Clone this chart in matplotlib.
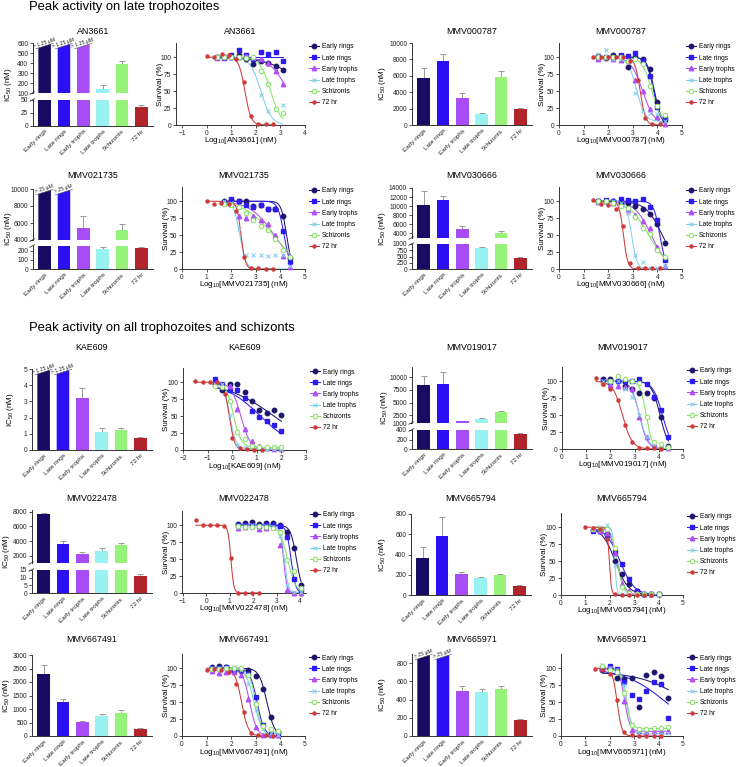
import numpy as np
import matplotlib
matplotlib.use('Agg')
import matplotlib.pyplot as plt
from matplotlib.lines import Line2D
from matplotlib.patches import Polygon

plt.rcParams['font.family'] = ['Liberation Sans', 'DejaVu Sans']
plt.rcParams['mathtext.fontset'] = 'custom'
plt.rcParams['mathtext.rm'] = 'Liberation Sans'

# ---------------- shared categories ----------------
STAGES = ['Early rings', 'Late rings', 'Early trophs', 'Late trophs', 'Schizonts', '72 hr']
BAR_COLORS = ['#170b63', '#2b10f3', '#a84cf6', '#99f2f2', '#97f27a', '#b1252a']
LINE_COLORS = ['#1f1670', '#2d1cf0', '#b04ff5', '#86cdee', '#86e365', '#cf3a3a']

# ---------------- IC50 bar data (nM; None = above tested range) ----------------
AN3661_IC50 = [None, None, None, 137, 390, 36]
AN3661_ERR = [0, 0, 0, 41, 34, 4]
MMV000787_IC50 = [5750, 7850, 3300, 1350, 5900, 1950]
MMV000787_ERR = [1150, 750, 650, 60, 650, 80]
MMV021735_IC50 = [None, None, 5450, 222, 5200, 226]
MMV021735_ERR = [0, 0, 1380, 18, 700, 14]
MMV030666_IC50 = [10240, 11370, 4980, 840, 4075, 453]
MMV030666_ERR = [3150, 830, 600, 40, 380, 27]
KAE609_IC50 = [None, None, 3.23, 1.13, 1.23, 0.74]
KAE609_ERR = [0, 0, 0.57, 0.21, 0.11, 0.06]
MMV019017_IC50 = [8430, 8630, 1300, 1750, 3090, 307]
MMV019017_ERR = [1830, 2350, 130, 250, 320, 28]
MMV022478_IC50 = [7650, 3650, 2270, 2630, 3470, 11.2]
MMV022478_ERR = [220, 300, 230, 440, 230, 0.9]
MMV665794_IC50 = [367, 585, 211, 169, 201, 91]
MMV665794_ERR = [103, 190, 16, 6, 7, 3]
MMV667491_IC50 = [2284, 1272, 531, 740, 840, 247]
MMV667491_ERR = [346, 98, 24, 62, 110, 37]
MMV665971_IC50 = [None, None, 495, 488, 517, 180]
MMV665971_ERR = [0, 0, 55, 26, 33, 11]

# ---------------- dose-response data: log10 conc (nM), survival (%) ----------------
# fit parameters per stage: (logIC50, hill slope, bottom, top)
AN3661_X = [0.4, 0.7, 1.0, 1.3, 1.6, 1.9, 2.2, 2.5, 2.8, 3.1]
AN3661_X72 = [0.0, 0.3, 0.6, 0.9, 1.2, 1.5, 1.8, 2.1, 2.4, 2.7]
AN3661_SURV = [
    [100, 100, 100, 103, 98, 90, 95, 91, 87, 81],
    [101, 99, 104, 110, 103, 98, 108, 105, 107, 94],
    [99, 100, 101, 100, 102, 101, 97, 92, 79, 60],
    [100, 102, 101, 100, 101, 99, 45, 21, 24, 29],
    [100, 100, 100, 101, 99, 100, 80, 61, 24, 17],
    [102, 100, 105, 103, 98, 64, 14, 2, 2, 2]]
AN3661_FIT = [(4.2, 0.6, 0, 100), (9.0, 1.0, 0, 100), (3.3, 1.2, 0, 100),
              (2.2, 2.0, 0, 100), (2.6, 2.0, 0, 100), (1.55, 3.5, 0, 100)]

MMV000787_X = [1.6, 1.9, 2.2, 2.5, 2.8, 3.1, 3.4, 3.7, 4.0, 4.3]
MMV000787_X72 = [1.4, 1.7, 2.0, 2.3, 2.6, 2.9, 3.2, 3.5, 3.8, 4.1]
MMV000787_SURV = [
    [102, 99, 104, 102, 85, 101, 97, 82, 34, 8],
    [100, 100, 101, 103, 102, 106, 94, 72, 26, 10],
    [98, 100, 97, 96, 96, 67, 50, 24, 12, 2],
    [105, 111, 97, 97, 95, 47, 20, 18, 16, 6],
    [100, 100, 100, 100, 95, 97, 90, 58, 28, 15],
    [100, 100, 100, 100, 100, 95, 67, 11, 1, 1]]
MMV000787_FIT = [(3.88, 3.0, 0, 100), (3.85, 3.0, 0, 100), (3.4, 1.8, 0, 100),
                 (3.15, 2.5, 5, 100), (3.78, 2.2, 0, 100), (3.3, 4.0, 0, 100)]

MMV021735_X = [1.7, 2.0, 2.3, 2.6, 2.9, 3.2, 3.5, 3.8, 4.1, 4.4]
MMV021735_X72 = [1.0, 1.3, 1.6, 1.9, 2.2, 2.5, 2.8, 3.1, 3.4, 3.7]
MMV021735_SURV = [
    [100, 102, 101, 101, 93, 95, 88, 88, 78, 16],
    [97, 103, 100, 94, 92, 94, 88, 88, 56, 10],
    [99, 96, 78, 75, 78, 72, 67, 50, 19, 3],
    [101, 97, 59, 21, 21, 20, 19, 20, 20, 5],
    [96, 95, 92, 83, 73, 64, 58, 44, 28, 17],
    [101, 96, 98, 96, 85, 18, 2, 1, 0, 0]]
MMV021735_FIT = [(4.25, 4.0, 0, 100), (4.15, 3.5, 0, 100), (3.75, 0.9, 0, 100),
                 (2.35, 3.5, 0, 100), (3.7, 0.75, 0, 100), (2.4, 5.0, 0, 100)]

MMV030666_X = [1.6, 1.9, 2.2, 2.5, 2.8, 3.1, 3.4, 3.7, 4.0, 4.3]
MMV030666_X72 = [1.4, 1.7, 2.0, 2.3, 2.6, 2.9, 3.2, 3.5, 3.8, 4.1]
MMV030666_SURV = [
    [100, 100, 100, 97, 98, 93, 89, 81, 67, 39],
    [101, 102, 101, 104, 102, 101, 104, 92, 73, 14],
    [99, 100, 98, 95, 87, 80, 71, 60, 33, 4],
    [97, 99, 100, 97, 82, 20, 10, 2, 2, 4],
    [100, 100, 97, 93, 90, 77, 60, 52, 28, 17],
    [102, 96, 95, 88, 64, 9, 1, 1, 1, 2]]
MMV030666_FIT = [(4.2, 1.3, 0, 100), (4.1, 3.5, 0, 100), (3.75, 1.3, 0, 100),
                 (2.95, 4.0, 0, 100), (3.65, 1.1, 0, 100), (2.62, 5.0, 0, 100)]

KAE609_X = [-0.7, -0.4, -0.1, 0.2, 0.5, 0.8, 1.1, 1.4, 1.7, 2.0]
KAE609_X72 = [-1.5, -1.2, -0.9, -0.6, -0.3, 0.0, 0.3, 0.6, 0.9, 1.2]
KAE609_SURV = [
    [98, 88, 97, 97, 86, 73, 59, 55, 59, 51],
    [105, 97, 88, 88, 76, 58, 48, 43, 37, 28],
    [97, 96, 95, 61, 31, 13, 6, 3, 2, 2],
    [97, 98, 51, 7, 5, 5, 4, 2, 2, 2],
    [95, 93, 72, 26, 16, 6, 5, 5, 5, 5],
    [102, 100, 100, 100, 83, 17, 3, 1, 0, 0]]
KAE609_FIT = [(1.7, 0.45, 0, 100), (1.15, 0.6, 0, 100), (0.35, 2.2, 0, 100),
              (-0.1, 3.5, 2, 100), (0.05, 2.8, 4, 100), (-0.12, 4.0, 0, 100)]

MMV019017_X = [1.7, 2.0, 2.3, 2.6, 2.9, 3.2, 3.5, 3.8, 4.1, 4.4]
MMV019017_X72 = [1.4, 1.7, 2.0, 2.3, 2.6, 2.9, 3.2, 3.5, 3.8, 4.1]
MMV019017_SURV = [
    [103, 104, 100, 93, 89, 82, 83, 75, 47, 5],
    [100, 99, 100, 100, 100, 103, 96, 77, 58, 18],
    [98, 94, 93, 92, 88, 47, 17, 8, 4, 2],
    [100, 100, 100, 88, 76, 50, 17, 5, 2, 1],
    [96, 100, 108, 104, 100, 98, 47, 10, 7, 3],
    [105, 96, 89, 72, 35, 11, 2, 1, 1, 0]]
MMV019017_FIT = [(4.05, 2.5, 0, 100), (4.15, 2.2, 0, 100), (3.2, 2.6, 0, 100),
                 (3.2, 2.3, 0, 100), (3.48, 3.5, 0, 100), (2.5, 2.2, 0, 100)]

MMV022478_X = [1.35, 1.65, 1.95, 2.25, 2.55, 2.85, 3.15, 3.45, 3.75, 4.05]
MMV022478_X72 = [-0.45, -0.15, 0.15, 0.45, 0.75, 1.05, 1.35, 1.65, 1.95, 2.25]
MMV022478_SURV = [
    [102, 103, 105, 102, 104, 103, 100, 90, 67, 12],
    [100, 101, 100, 99, 100, 101, 99, 82, 21, 4],
    [96, 97, 99, 95, 96, 97, 71, 5, 0, 0],
    [98, 99, 100, 98, 99, 97, 84, 12, 2, 2],
    [99, 98, 97, 99, 98, 96, 90, 49, 33, 7],
    [107, 101, 100, 101, 99, 52, 0, 0, 0, 0]]
MMV022478_FIT = [(3.85, 3.5, 0, 100), (3.62, 4.5, 0, 100), (3.3, 6.0, 0, 100),
                 (3.33, 5.0, 0, 100), (3.47, 2.5, 0, 100), (1.05, 7.0, 0, 100)]

MMV665794_X = [1.3, 1.6, 1.9, 2.2, 2.5, 2.8, 3.1, 3.4, 3.7, 4.0]
MMV665794_X72 = [1.0, 1.3, 1.6, 1.9, 2.2, 2.5, 2.8, 3.1, 3.4, 3.7]
MMV665794_SURV = [
    [96, 96, 90, 50, 31, 16, 6, 2, 1, 1],
    [95, 94, 88, 63, 46, 24, 6, 2, 1, 1],
    [97, 95, 92, 62, 16, 6, 3, 1, 1, 1],
    [98, 100, 104, 45, 2, 1, 1, 1, 1, 1],
    [97, 97, 97, 69, 12, 3, 1, 1, 1, 2],
    [100, 99, 97, 82, 1, 0, 0, 0, 0, 0]]
MMV665794_FIT = [(2.22, 1.6, 0, 100), (2.42, 1.5, 0, 100), (2.3, 2.8, 0, 100),
                 (2.2, 10.0, 0, 100), (2.3, 3.5, 0, 100), (1.98, 10.0, 0, 100)]

MMV667491_X = [1.2, 1.5, 1.8, 2.1, 2.4, 2.7, 3.0, 3.3, 3.6, 3.9]
MMV667491_X72 = [1.0, 1.3, 1.6, 1.9, 2.2, 2.5, 2.8, 3.1, 3.4, 3.7]
MMV667491_SURV = [
    [102, 104, 102, 98, 96, 97, 89, 69, 28, 6],
    [101, 100, 102, 96, 98, 92, 57, 16, 3, 2],
    [96, 93, 95, 95, 90, 54, 13, 2, 1, 1],
    [100, 101, 101, 102, 97, 76, 38, 11, 4, 2],
    [99, 99, 100, 100, 100, 90, 47, 15, 11, 7],
    [97, 99, 98, 95, 76, 36, 4, 1, 1, 0]]
MMV667491_FIT = [(3.45, 2.8, 0, 100), (3.05, 3.0, 0, 100), (2.75, 3.0, 0, 100),
                 (2.93, 2.6, 0, 100), (3.0, 3.2, 0, 100), (2.42, 3.2, 0, 100)]

MMV665971_X = [1.7, 2.0, 2.3, 2.6, 2.9, 3.2, 3.5, 3.8, 4.1, 4.4]
MMV665971_X72 = [1.4, 1.7, 2.0, 2.3, 2.6, 2.9, 3.2, 3.5, 3.8, 4.1]
MMV665971_SURV = [
    [97, 101, 85, 84, 86, 43, 90, 94, 89, 56],
    [100, 103, 99, 79, 61, 54, 67, 79, 76, 27],
    [100, 101, 97, 51, 9, 7, 6, 7, 8, 8],
    [105, 101, 97, 75, 18, 4, 3, 3, 3, 5],
    [104, 98, 95, 64, 16, 11, 11, 12, 12, 13],
    [99, 98, 91, 53, 6, 1, 0, 0, 0, 0]]
MMV665971_FIT = [(5.3, 0.45, 0, 95), (4.3, 0.5, 0, 100), (2.6, 4.0, 7, 100),
                 (2.7, 4.0, 3, 100), (2.65, 4.0, 11, 100), (2.3, 4.5, 0, 100)]

# ---------------- figure ----------------
W, H = 739, 767
fig = plt.figure(figsize=(W / 100, H / 100), dpi=100)

AXC = '#333333'
TICK_FS = 4.8
LAB_FS = 5.8
TITLE_FS = 6.4
LEG_FS = 4.8
BAR_XT_FS = 4.6


def rect(l, t, r, b):
    return [l / W, 1 - b / H, (r - l) / W, (b - t) / H]


def fx(px):
    return px / W


def fy(py):
    return 1 - py / H


def base_style(ax, bottom=True):
    ax.spines['top'].set_visible(False)
    ax.spines['right'].set_visible(False)
    for s in ('left', 'bottom'):
        ax.spines[s].set_color(AXC)
        ax.spines[s].set_linewidth(0.7)
    ax.tick_params(length=2.2, width=0.6, labelsize=TICK_FS, pad=1.2,
                   colors=AXC, labelcolor='#222222')
    if not bottom:
        ax.spines['bottom'].set_visible(False)
        ax.tick_params(axis='x', bottom=False, labelbottom=False)
    ax.patch.set_alpha(0)


XPOS = np.arange(6)
BW = 0.65
XLIM_BAR = (-0.6, 5.6)
SLANT_PX = 4.0


def draw_bars(ax, vals, errs, lo, hi, hpx, wpx, label, is_top):
    for i, v in enumerate(vals):
        if v is None:
            x0, x1 = XPOS[i] - BW / 2, XPOS[i] + BW / 2
            if not is_top:
                ax.bar(XPOS[i], hi * 2, width=BW, color=BAR_COLORS[i], zorder=2)
                continue
            dy = SLANT_PX * (hi - lo) / hpx
            ytop = hi - 1.0 * (hi - lo) / hpx
            ax.add_patch(Polygon([(x0, lo), (x1, lo), (x1, ytop), (x0, ytop - dy)],
                                 closed=True, fc=BAR_COLORS[i], ec='none', zorder=2))
            ext = 0.12
            slope = dy / BW
            ax.plot([x0 - ext, x1 + ext], [ytop - dy - slope * ext, ytop + slope * ext],
                    color='#555555', lw=0.4, clip_on=False, zorder=3)
            ang = np.degrees(np.arctan(SLANT_PX / (BW * wpx / (XLIM_BAR[1] - XLIM_BAR[0]))))
            ax.annotate(label, (XPOS[i], ytop - dy / 2), xytext=(0, 0.6),
                        textcoords='offset points', rotation=ang, ha='center',
                        va='bottom', rotation_mode='anchor', fontsize=3.7,
                        color='#222222', annotation_clip=False)
        else:
            ax.bar(XPOS[i], v, width=BW, color=BAR_COLORS[i], zorder=2)
            ax.errorbar(XPOS[i], v, yerr=[[0], [errs[i]]], fmt='none', ecolor='#9a9a9a',
                        elinewidth=0.7, capsize=2.2, capthick=0.7, zorder=1)


def bar_xticks(ax):
    ax.set_xlim(*XLIM_BAR)
    ax.set_xticks(XPOS)
    ax.set_xticklabels(STAGES, rotation=45, ha='right', va='top', rotation_mode='anchor',
                       fontsize=BAR_XT_FS)
    ax.tick_params(axis='x', length=0, pad=2.2)


def break_mark(y_px, l_px):
    fig.add_artist(Line2D([fx(l_px - 3), fx(l_px + 1.5)], [fy(y_px + 1.2), fy(y_px - 1.2)],
                          color=AXC, lw=0.6))


def bar_panel(title, vals, errs, l, r, title_y, ylab_x, label=None,
              single=None, upper=None, lower=None):
    wpx = r - l
    if single is not None:
        (lo, hi), ticks, t, b = single
        ax = fig.add_axes(rect(l, t, r, b))
        base_style(ax)
        draw_bars(ax, vals, errs, lo, hi, b - t, wpx, label, True)
        ax.set_ylim(lo, hi)
        ax.set_yticks(ticks)
        bar_xticks(ax)
        top_px, bot_px = t, b
    else:
        (ulo, uhi), uticks, ut, ub = upper
        (llo, lhi), lticks, lt, lb = lower
        axu = fig.add_axes(rect(l, ut, r, ub))
        base_style(axu, bottom=False)
        draw_bars(axu, vals, errs, ulo, uhi, ub - ut, wpx, label, True)
        axu.set_ylim(ulo, uhi)
        axu.set_yticks(uticks)
        axu.set_xlim(*XLIM_BAR)
        axl = fig.add_axes(rect(l, lt, r, lb))
        base_style(axl)
        draw_bars(axl, vals, errs, llo, lhi, lb - lt, wpx, label, False)
        axl.set_ylim(llo, lhi)
        axl.set_yticks(lticks)
        bar_xticks(axl)
        break_mark(ub, l)
        break_mark(lt, l)
        top_px, bot_px = ut, lb
    fig.text(fx((l + r) / 2), fy(title_y), title, ha='center', va='center', fontsize=TITLE_FS)
    fig.text(fx(ylab_x), fy((top_px + bot_px) / 2), r'IC$_\mathregular{50}$ (nM)',
             rotation=90, ha='center', va='center', fontsize=LAB_FS)


MK = [dict(marker='o', ms=3.2, mfc=LINE_COLORS[0], mec=LINE_COLORS[0]),
      dict(marker='s', ms=3.0, mfc=LINE_COLORS[1], mec=LINE_COLORS[1]),
      dict(marker='^', ms=3.2, mfc=LINE_COLORS[2], mec=LINE_COLORS[2]),
      dict(marker='x', ms=3.2, mew=0.75, mec=LINE_COLORS[3]),
      dict(marker='o', ms=3.2, mfc='white', mew=0.75, mec=LINE_COLORS[4]),
      dict(marker='o', ms=2.2, mfc=LINE_COLORS[5], mec=LINE_COLORS[5])]


def dr_panel(name, l, t, r, b, xlim, xticks, X, X72, SURV, FIT, title_y):
    ax = fig.add_axes(rect(l, t, r, b))
    base_style(ax)
    for i in range(6):
        xd = np.array(X72 if i == 5 else X, dtype=float)
        yd = np.array(SURV[i], dtype=float)
        ic, hill, bot, top = FIT[i]
        xx = np.linspace(xd.min(), xd.max(), 300)
        yy = bot + (top - bot) / (1 + 10 ** ((xx - ic) * hill))
        ax.plot(xx, yy, color=LINE_COLORS[i], lw=0.75, clip_on=False, zorder=2 + i * 0.1)
        ax.plot(xd, yd, linestyle='none', clip_on=False, zorder=3 + i * 0.1, **MK[i])
    ax.set_xlim(*xlim)
    ax.set_ylim(0, 121)
    ax.set_xticks(xticks)
    ax.set_yticks([0, 25, 50, 75, 100])
    fig.text(fx((l + r) / 2), fy(title_y), name, ha='center', va='center', fontsize=TITLE_FS)
    fig.text(fx((l + r) / 2), fy(b + 16), r'Log$_\mathregular{10}$[' + name + '] (nM)',
             ha='center', va='center', fontsize=LAB_FS)
    fig.text(fx(l - 16), fy((t + b) / 2), 'Survival (%)', rotation=90,
             ha='center', va='center', fontsize=LAB_FS)
    handles = [Line2D([], [], color=LINE_COLORS[i], lw=0.75, **MK[i]) for i in range(6)]
    fig.legend(handles, STAGES, loc='upper left', bbox_to_anchor=(fx(r + 4), fy(t + 0.5)),
               frameon=False, fontsize=LEG_FS, handlelength=1.5, handletextpad=0.45,
               labelspacing=0.62, borderpad=0, borderaxespad=0)


# ---------------- section titles ----------------
fig.text(fx(29), fy(7), 'Peak activity on late trophozoites', fontsize=9.4, va='center')
fig.text(fx(29), fy(328), 'Peak activity on all trophozoites and schizonts', fontsize=9.4,
         va='center')

# ---------------- row 1 ----------------
bar_panel('AN3661', AN3661_IC50, AN3661_ERR, 33, 153, 32, 9, label='> 1.25 μM',
          upper=((100, 600), [100, 200, 300, 400, 500, 600], 43, 93),
          lower=((0, 50), [0, 25, 50], 100, 125.5))
dr_panel('AN3661', 176, 43, 305, 125, (-1.26, 4), [-1, 0, 1, 2, 3, 4],
         AN3661_X, AN3661_X72, AN3661_SURV, AN3661_FIT, 32)
bar_panel('MMV000787', MMV000787_IC50, MMV000787_ERR, 412, 532, 32, 383,
          single=((0, 10000), [0, 2000, 4000, 6000, 8000, 10000], 43, 125))
dr_panel('MMV000787', 559, 43, 682, 125, (0, 5), [0, 1, 2, 3, 4, 5],
         MMV000787_X, MMV000787_X72, MMV000787_SURV, MMV000787_FIT, 32)

# ---------------- row 2 ----------------
bar_panel('MMV021735', MMV021735_IC50, MMV021735_ERR, 33, 153, 175, 9, label='> 25 μM',
          upper=((4000, 10000), [4000, 6000, 8000, 10000], 189, 240),
          lower=((0, 250), [0, 100, 200], 246, 269))
dr_panel('MMV021735', 182, 187, 305, 269, (0, 5), [0, 1, 2, 3, 4, 5],
         MMV021735_X, MMV021735_X72, MMV021735_SURV, MMV021735_FIT, 175)
bar_panel('MMV030666', MMV030666_IC50, MMV030666_ERR, 412, 532, 175, 383,
          upper=((3000, 14000), [4000, 6000, 8000, 10000, 12000, 14000], 188, 238),
          lower=((0, 1000), [0, 250, 500, 750, 1000], 244, 269))
dr_panel('MMV030666', 559, 187, 682, 269, (0, 5), [0, 1, 2, 3, 4, 5],
         MMV030666_X, MMV030666_X72, MMV030666_SURV, MMV030666_FIT, 175)

# ---------------- row 3 ----------------
bar_panel('KAE609', KAE609_IC50, KAE609_ERR, 32, 152, 347, 10, label='> 1.25 μM',
          single=((0, 5), [0, 1, 2, 3, 4, 5], 369, 450))
dr_panel('KAE609', 183, 368, 306, 450, (-2, 3), [-2, -1, 0, 1, 2, 3],
         KAE609_X, KAE609_X72, KAE609_SURV, KAE609_FIT, 347)
bar_panel('MMV019017', MMV019017_IC50, MMV019017_ERR, 412, 532, 347, 385,
          upper=((1000, 12000), [1000, 2500, 5000, 7500, 10000], 367, 423),
          lower=((0, 400), [0, 200, 400], 430, 449))
dr_panel('MMV019017', 562, 367, 683, 449, (0, 5), [0, 1, 2, 3, 4, 5],
         MMV019017_X, MMV019017_X72, MMV019017_SURV, MMV019017_FIT, 347)

# ---------------- row 4 ----------------
bar_panel('MMV022478', MMV022478_IC50, MMV022478_ERR, 32, 152, 498, 6,
          upper=((1000, 8250), [2000, 4000, 6000, 8000], 510, 563),
          lower=((0, 15), [0, 5, 10, 15], 570, 593))
dr_panel('MMV022478', 182, 511, 306, 593, (-1.04, 4.26), [-1, 0, 1, 2, 3, 4],
         MMV022478_X, MMV022478_X72, MMV022478_SURV, MMV022478_FIT, 498)
bar_panel('MMV665794', MMV665794_IC50, MMV665794_ERR, 411, 531, 498, 383,
          single=((0, 800), [0, 200, 400, 600, 800], 514, 595))
dr_panel('MMV665794', 561, 513, 683, 595, (0, 5), [0, 1, 2, 3, 4, 5],
         MMV665794_X, MMV665794_X72, MMV665794_SURV, MMV665794_FIT, 498)

# ---------------- row 5 ----------------
bar_panel('MMV667491', MMV667491_IC50, MMV667491_ERR, 32, 152, 640, 6,
          single=((0, 3000), [0, 500, 1000, 1500, 2000, 2500, 3000], 655, 736))
dr_panel('MMV667491', 182, 654, 305, 736, (0, 5), [0, 1, 2, 3, 4, 5],
         MMV667491_X, MMV667491_X72, MMV667491_SURV, MMV667491_FIT, 640)
bar_panel('MMV665971', MMV665971_IC50, MMV665971_ERR, 412, 532, 640, 383, label='> 25 μM',
          single=((0, 900), [0, 200, 400, 600, 800], 654, 736))
dr_panel('MMV665971', 561, 654, 683, 736, (0, 5), [0, 1, 2, 3, 4, 5],
         MMV665971_X, MMV665971_X72, MMV665971_SURV, MMV665971_FIT, 640)

fig.savefig('out.png', dpi=100)
